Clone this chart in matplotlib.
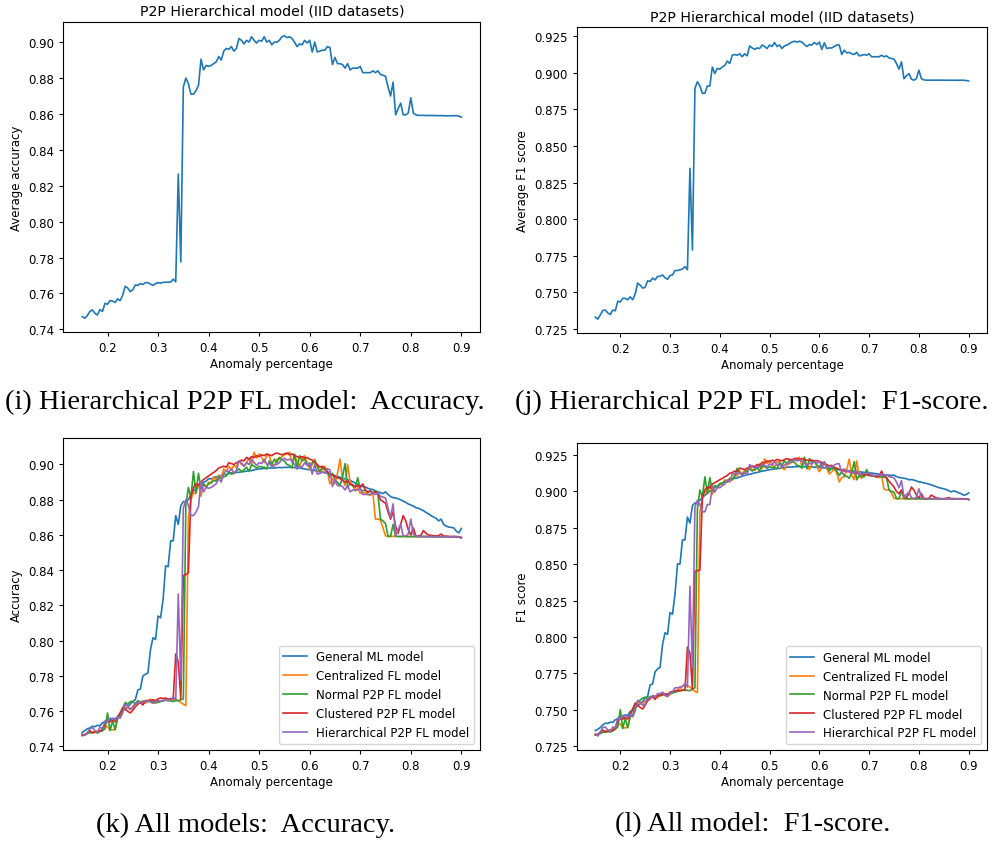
import numpy as np
import matplotlib.pyplot as plt

plt.rcParams['font.size'] = 8.5

# anomaly percentage grid (0.15 .. 0.90, step 0.005)
x = np.round(np.linspace(0.15, 0.90, 151), 3)

# ---- accuracy ----
acc_general = [
    0.7480, 0.7490, 0.7500, 0.7505, 0.7515, 0.7512, 0.7520, 0.7518, 0.7535, 0.7540,
    0.7550, 0.7548, 0.7560, 0.7555, 0.7570, 0.7585, 0.7605, 0.7612, 0.7625, 0.7640,
    0.7656, 0.7665, 0.7720, 0.7726, 0.7800, 0.7810, 0.7817, 0.7950, 0.8017, 0.8007,
    0.8140, 0.8130, 0.8235, 0.8425, 0.8420, 0.8567, 0.8567, 0.8710, 0.8660, 0.8766,
    0.8790, 0.8785, 0.8800, 0.8830, 0.8850, 0.8862, 0.8880, 0.8885, 0.8900, 0.8905,
    0.8920, 0.8918, 0.8925, 0.8930, 0.8930, 0.8938, 0.8945, 0.8942, 0.8950, 0.8952,
    0.8950, 0.8955, 0.8956, 0.8958, 0.8960, 0.8962, 0.8966, 0.8965, 0.8970, 0.8972,
    0.8975, 0.8976, 0.8978, 0.8977, 0.8980, 0.8980, 0.8980, 0.8982, 0.8983, 0.8982,
    0.8984, 0.8983, 0.8985, 0.8984, 0.8982, 0.8980, 0.8980, 0.8977, 0.8975, 0.8972,
    0.8970, 0.8968, 0.8966, 0.8962, 0.8960, 0.8957, 0.8953, 0.8950, 0.8947, 0.8942,
    0.8937, 0.8932, 0.8927, 0.8922, 0.8918, 0.8913, 0.8910, 0.8902, 0.8895, 0.8888,
    0.8880, 0.8875, 0.8872, 0.8865, 0.8860, 0.8858, 0.8850, 0.8845, 0.8840, 0.8835,
    0.8845, 0.8830, 0.8818, 0.8812, 0.8810, 0.8805, 0.8800, 0.8792, 0.8785, 0.8776,
    0.8770, 0.8764, 0.8755, 0.8752, 0.8745, 0.8738, 0.8728, 0.8720, 0.8710, 0.8702,
    0.8695, 0.8680, 0.8690, 0.8660, 0.8650, 0.8645, 0.8643, 0.8640, 0.8622, 0.8612,
    0.8637,
]
acc_central = [
    0.7462, 0.7468, 0.7475, 0.7478, 0.7480, 0.7485, 0.7478, 0.7490, 0.7488, 0.7520,
    0.7510, 0.7495, 0.7495, 0.7495, 0.7560, 0.7590, 0.7610, 0.7625, 0.7618, 0.7610,
    0.7628, 0.7640, 0.7655, 0.7650, 0.7658, 0.7645, 0.7662, 0.7668, 0.7650, 0.7645,
    0.7655, 0.7660, 0.7658, 0.7665, 0.7662, 0.7668, 0.7665, 0.7668, 0.7660, 0.7650,
    0.7640, 0.7632, 0.8700, 0.8800, 0.8840, 0.8835, 0.8890, 0.8820, 0.8890, 0.8870,
    0.8900, 0.8895, 0.8930, 0.8910, 0.8940, 0.8925, 0.8975, 0.8960, 0.8990, 0.8970,
    0.8995, 0.8985, 0.9020, 0.9000, 0.8990, 0.9010, 0.9035, 0.9000, 0.9070, 0.9035,
    0.9060, 0.9040, 0.9010, 0.9050, 0.9050, 0.9005, 0.8990, 0.9030, 0.9030, 0.9045,
    0.9055, 0.9060, 0.9070, 0.9010, 0.9050, 0.9020, 0.8990, 0.9030, 0.9050, 0.9010,
    0.8970, 0.9000, 0.9030, 0.8990, 0.8950, 0.8970, 0.8990, 0.8960, 0.8890, 0.8920,
    0.8890, 0.8950, 0.9030, 0.8920, 0.8880, 0.9000, 0.8900, 0.8880, 0.8850, 0.8870,
    0.8835, 0.8840, 0.8840, 0.8830, 0.8825, 0.8840, 0.8690, 0.8690, 0.8685, 0.8640,
    0.8595, 0.8592, 0.8592, 0.8592, 0.8593, 0.8592, 0.8592, 0.8591, 0.8591, 0.8591,
    0.8591, 0.8592, 0.8591, 0.8591, 0.8590, 0.8591, 0.8591, 0.8590, 0.8590, 0.8590,
    0.8590, 0.8590, 0.8589, 0.8590, 0.8590, 0.8589, 0.8589, 0.8590, 0.8589, 0.8588,
    0.8585,
]
acc_normal = [
    0.7468, 0.7465, 0.7472, 0.7480, 0.7478, 0.7482, 0.7476, 0.7485, 0.7490, 0.7500,
    0.7590, 0.7490, 0.7545, 0.7495, 0.7560, 0.7570, 0.7615, 0.7650, 0.7640, 0.7655,
    0.7655, 0.7640, 0.7660, 0.7650, 0.7655, 0.7660, 0.7655, 0.7660, 0.7655, 0.7650,
    0.7650, 0.7655, 0.7660, 0.7662, 0.7660, 0.7658, 0.7655, 0.7660, 0.7660, 0.7665,
    0.7670, 0.8770, 0.8870, 0.8810, 0.8960, 0.8840, 0.8950, 0.8860, 0.8890, 0.8870,
    0.8890, 0.8895, 0.8910, 0.8905, 0.8930, 0.8920, 0.8930, 0.8935, 0.8960, 0.8945,
    0.8950, 0.8965, 0.8975, 0.8960, 0.8970, 0.8985, 0.8960, 0.9000, 0.8990, 0.8980,
    0.8990, 0.8985, 0.8985, 0.8975, 0.9020, 0.9000, 0.9030, 0.9010, 0.9040, 0.9025,
    0.9020, 0.9000, 0.8995, 0.8980, 0.9060, 0.8975, 0.9050, 0.9020, 0.9030, 0.9000,
    0.8990, 0.9010, 0.9020, 0.8990, 0.8960, 0.8985, 0.8980, 0.8960, 0.8930, 0.8950,
    0.8910, 0.8900, 0.8880, 0.8930, 0.9005, 0.8870, 0.8890, 0.8880, 0.8870, 0.8925,
    0.8860, 0.8850, 0.8855, 0.8840, 0.8850, 0.8835, 0.8850, 0.8830, 0.8690, 0.8680,
    0.8665, 0.8592, 0.8592, 0.8660, 0.8592, 0.8591, 0.8591, 0.8592, 0.8591, 0.8591,
    0.8591, 0.8591, 0.8590, 0.8591, 0.8590, 0.8590, 0.8591, 0.8590, 0.8590, 0.8589,
    0.8590, 0.8589, 0.8590, 0.8590, 0.8589, 0.8589, 0.8590, 0.8589, 0.8589, 0.8588,
    0.8585,
]
acc_cluster = [
    0.7462, 0.7465, 0.7478, 0.7490, 0.7478, 0.7480, 0.7488, 0.7485, 0.7500, 0.7530,
    0.7545, 0.7540, 0.7548, 0.7540, 0.7565, 0.7590, 0.7620, 0.7610, 0.7600, 0.7590,
    0.7605, 0.7625, 0.7640, 0.7650, 0.7635, 0.7660, 0.7655, 0.7660, 0.7665, 0.7660,
    0.7670, 0.7675, 0.7672, 0.7675, 0.7668, 0.7672, 0.7670, 0.7925, 0.7880, 0.7670,
    0.8370, 0.8375, 0.8385, 0.8820, 0.8870, 0.8890, 0.8880, 0.8900, 0.8915, 0.8925,
    0.8935, 0.8945, 0.8955, 0.8965, 0.8980, 0.8985, 0.8990, 0.8985, 0.9010, 0.9005,
    0.9000, 0.9010, 0.9015, 0.9025, 0.9020, 0.9040, 0.9030, 0.9045, 0.9040, 0.9050,
    0.9045, 0.9055, 0.9050, 0.9060, 0.9055, 0.9050, 0.9060, 0.9065, 0.9060, 0.9055,
    0.9060, 0.9065, 0.9055, 0.9060, 0.9050, 0.9045, 0.9040, 0.9045, 0.9035, 0.9040,
    0.9030, 0.9025, 0.9010, 0.9000, 0.8985, 0.8990, 0.8970, 0.8960, 0.8945, 0.8940,
    0.8930, 0.8925, 0.8920, 0.8910, 0.8900, 0.8905, 0.8890, 0.8885, 0.8875, 0.8880,
    0.8870, 0.8890, 0.8855, 0.8845, 0.8850, 0.8840, 0.8845, 0.8830, 0.8800, 0.8790,
    0.8780, 0.8730, 0.8690, 0.8730, 0.8650, 0.8610, 0.8660, 0.8710, 0.8680, 0.8630,
    0.8600, 0.8640, 0.8595, 0.8595, 0.8598, 0.8625, 0.8610, 0.8600, 0.8598, 0.8596,
    0.8595, 0.8596, 0.8605, 0.8593, 0.8594, 0.8592, 0.8591, 0.8592, 0.8590, 0.8590,
    0.8585,
]
acc_hier = [
    0.7471, 0.7462, 0.7476, 0.7500, 0.7508, 0.7490, 0.7480, 0.7510, 0.7500, 0.7545,
    0.7540, 0.7560, 0.7558, 0.7550, 0.7570, 0.7560, 0.7590, 0.7640, 0.7630, 0.7610,
    0.7620, 0.7647, 0.7645, 0.7655, 0.7650, 0.7660, 0.7660, 0.7652, 0.7645, 0.7655,
    0.7660, 0.7658, 0.7662, 0.7662, 0.7663, 0.7663, 0.7680, 0.7665, 0.8265, 0.7775,
    0.8750, 0.8800, 0.8770, 0.8710, 0.8710, 0.8730, 0.8760, 0.8905, 0.8845, 0.8870,
    0.8865, 0.8870, 0.8880, 0.8890, 0.8920, 0.8900, 0.8950, 0.8965, 0.8960, 0.8975,
    0.8950, 0.8965, 0.9020, 0.9010, 0.8990, 0.9010, 0.9000, 0.9030, 0.9010, 0.8995,
    0.9010, 0.9005, 0.9030, 0.9000, 0.9010, 0.8985, 0.9000, 0.9000, 0.9010, 0.9030,
    0.9035, 0.9025, 0.9030, 0.9020, 0.9000, 0.8975, 0.8990, 0.8985, 0.9010, 0.8995,
    0.9010, 0.8945, 0.9000, 0.8945, 0.8950, 0.8955, 0.8955, 0.8975, 0.8970, 0.8875,
    0.8915, 0.8880, 0.8880, 0.8875, 0.8855, 0.8880, 0.8845, 0.8855, 0.8855, 0.8855,
    0.8865, 0.8830, 0.8830, 0.8830, 0.8830, 0.8840, 0.8830, 0.8840, 0.8820, 0.8815,
    0.8810, 0.8750, 0.8700, 0.8777, 0.8595, 0.8630, 0.8660, 0.8595, 0.8595, 0.8605,
    0.8690, 0.8605, 0.8595, 0.8592, 0.8592, 0.8592, 0.8591, 0.8592, 0.8591, 0.8591,
    0.8591, 0.8590, 0.8591, 0.8590, 0.8589, 0.8590, 0.8590, 0.8590, 0.8591, 0.8588,
    0.8582,
]

# ---- F1 score ----
f1_general = [
    0.7356, 0.7365, 0.7377, 0.7395, 0.7407, 0.7405, 0.7414, 0.7412, 0.7430, 0.7438,
    0.7450, 0.7448, 0.7464, 0.7460, 0.7487, 0.7495, 0.7515, 0.7525, 0.7545, 0.7555,
    0.7580, 0.7590, 0.7670, 0.7676, 0.7760, 0.7780, 0.7790, 0.7948, 0.8029, 0.8017,
    0.8167, 0.8156, 0.8294, 0.8501, 0.8501, 0.8667, 0.8667, 0.8824, 0.8782, 0.8904,
    0.8920, 0.8927, 0.8940, 0.8958, 0.8974, 0.8985, 0.9003, 0.9010, 0.9030, 0.9035,
    0.9054, 0.9058, 0.9065, 0.9070, 0.9080, 0.9085, 0.9090, 0.9092, 0.9100, 0.9105,
    0.9110, 0.9114, 0.9118, 0.9122, 0.9128, 0.9130, 0.9135, 0.9140, 0.9142, 0.9146,
    0.9150, 0.9152, 0.9155, 0.9158, 0.9158, 0.9162, 0.9165, 0.9166, 0.9168, 0.9168,
    0.9170, 0.9170, 0.9171, 0.9170, 0.9170, 0.9170, 0.9170, 0.9168, 0.9167, 0.9166,
    0.9165, 0.9163, 0.9162, 0.9160, 0.9158, 0.9156, 0.9154, 0.9152, 0.9150, 0.9148,
    0.9146, 0.9144, 0.9142, 0.9140, 0.9139, 0.9137, 0.9135, 0.9133, 0.9131, 0.9130,
    0.9128, 0.9126, 0.9124, 0.9122, 0.9118, 0.9116, 0.9114, 0.9113, 0.9112, 0.9110,
    0.9112, 0.9102, 0.9096, 0.9094, 0.9090, 0.9088, 0.9080, 0.9082, 0.9078, 0.9072,
    0.9066, 0.9064, 0.9058, 0.9055, 0.9050, 0.9045, 0.9038, 0.9033, 0.9026, 0.9022,
    0.9018, 0.9013, 0.9005, 0.8997, 0.9004, 0.8998, 0.8990, 0.8985, 0.8974, 0.8978,
    0.8990,
]
f1_central = [
    0.7325, 0.7330, 0.7340, 0.7345, 0.7350, 0.7360, 0.7352, 0.7365, 0.7370, 0.7410,
    0.7400, 0.7375, 0.7375, 0.7378, 0.7460, 0.7500, 0.7530, 0.7550, 0.7540, 0.7535,
    0.7560, 0.7575, 0.7590, 0.7585, 0.7595, 0.7580, 0.7605, 0.7615, 0.7595, 0.7590,
    0.7605, 0.7615, 0.7625, 0.7635, 0.7645, 0.7660, 0.7670, 0.7665, 0.7655, 0.7640,
    0.7625, 0.7618, 0.8860, 0.8950, 0.9000, 0.8990, 0.9040, 0.8980, 0.9040, 0.9020,
    0.9050, 0.9045, 0.9080, 0.9065, 0.9090, 0.9075, 0.9120, 0.9105, 0.9140, 0.9120,
    0.9145, 0.9135, 0.9170, 0.9150, 0.9145, 0.9160, 0.9190, 0.9155, 0.9225, 0.9190,
    0.9210, 0.9195, 0.9165, 0.9205, 0.9205, 0.9160, 0.9150, 0.9185, 0.9190, 0.9200,
    0.9215, 0.9220, 0.9235, 0.9170, 0.9210, 0.9180, 0.9150, 0.9190, 0.9210, 0.9170,
    0.9135, 0.9165, 0.9195, 0.9155, 0.9120, 0.9135, 0.9155, 0.9125, 0.9065, 0.9095,
    0.9100, 0.9150, 0.9222, 0.9110, 0.9080, 0.9210, 0.9105, 0.9090, 0.9120, 0.9110,
    0.9115, 0.9110, 0.9105, 0.9100, 0.9095, 0.9110, 0.9015, 0.9010, 0.9010, 0.8990,
    0.8952, 0.8950, 0.8950, 0.8950, 0.8950, 0.8950, 0.8949, 0.8950, 0.8950, 0.8949,
    0.8950, 0.8949, 0.8950, 0.8950, 0.8949, 0.8950, 0.8949, 0.8949, 0.8950, 0.8949,
    0.8949, 0.8950, 0.8949, 0.8949, 0.8949, 0.8948, 0.8949, 0.8948, 0.8948, 0.8948,
    0.8945,
]
f1_normal = [
    0.7330, 0.7328, 0.7335, 0.7345, 0.7345, 0.7350, 0.7345, 0.7355, 0.7365, 0.7380,
    0.7500, 0.7370, 0.7440, 0.7375, 0.7450, 0.7460, 0.7535, 0.7555, 0.7565, 0.7580,
    0.7585, 0.7575, 0.7590, 0.7585, 0.7590, 0.7595, 0.7598, 0.7600, 0.7605, 0.7600,
    0.7610, 0.7615, 0.7620, 0.7625, 0.7630, 0.7632, 0.7635, 0.7632, 0.7630, 0.7640,
    0.7650, 0.8880, 0.9010, 0.8960, 0.9100, 0.8990, 0.9095, 0.9000, 0.9040, 0.9030,
    0.9050, 0.9055, 0.9070, 0.9065, 0.9090, 0.9085, 0.9100, 0.9160, 0.9125, 0.9120,
    0.9130, 0.9145, 0.9155, 0.9140, 0.9150, 0.9165, 0.9140, 0.9180, 0.9170, 0.9160,
    0.9170, 0.9165, 0.9165, 0.9155, 0.9200, 0.9180, 0.9210, 0.9190, 0.9215, 0.9205,
    0.9200, 0.9180, 0.9175, 0.9160, 0.9235, 0.9155, 0.9225, 0.9200, 0.9210, 0.9180,
    0.9170, 0.9190, 0.9200, 0.9170, 0.9140, 0.9165, 0.9160, 0.9140, 0.9110, 0.9135,
    0.9110, 0.9105, 0.9090, 0.9130, 0.9205, 0.9080, 0.9110, 0.9105, 0.9100, 0.9150,
    0.9110, 0.9105, 0.9108, 0.9100, 0.9105, 0.9098, 0.9105, 0.9095, 0.9010, 0.9000,
    0.8995, 0.8950, 0.8950, 0.9005, 0.8950, 0.8950, 0.8949, 0.8950, 0.8950, 0.8949,
    0.8950, 0.8949, 0.8949, 0.8950, 0.8949, 0.8949, 0.8950, 0.8949, 0.8949, 0.8949,
    0.8948, 0.8949, 0.8949, 0.8948, 0.8949, 0.8948, 0.8948, 0.8949, 0.8948, 0.8948,
    0.8945,
]
f1_cluster = [
    0.7325, 0.7330, 0.7345, 0.7360, 0.7348, 0.7350, 0.7360, 0.7355, 0.7375, 0.7420,
    0.7440, 0.7435, 0.7445, 0.7435, 0.7470, 0.7505, 0.7545, 0.7530, 0.7515, 0.7505,
    0.7530, 0.7560, 0.7575, 0.7590, 0.7570, 0.7600, 0.7595, 0.7605, 0.7610, 0.7605,
    0.7620, 0.7625, 0.7628, 0.7632, 0.7630, 0.7635, 0.7632, 0.7930, 0.7890, 0.7640,
    0.8450, 0.8455, 0.8460, 0.8960, 0.9010, 0.9030, 0.9025, 0.9050, 0.9060, 0.9070,
    0.9080, 0.9090, 0.9100, 0.9110, 0.9125, 0.9130, 0.9140, 0.9135, 0.9160, 0.9155,
    0.9150, 0.9160, 0.9165, 0.9175, 0.9170, 0.9185, 0.9180, 0.9200, 0.9195, 0.9210,
    0.9205, 0.9215, 0.9210, 0.9220, 0.9215, 0.9210, 0.9220, 0.9225, 0.9220, 0.9218,
    0.9225, 0.9228, 0.9220, 0.9225, 0.9220, 0.9215, 0.9212, 0.9215, 0.9210, 0.9212,
    0.9205, 0.9200, 0.9190, 0.9185, 0.9175, 0.9180, 0.9165, 0.9160, 0.9150, 0.9148,
    0.9140, 0.9138, 0.9135, 0.9130, 0.9125, 0.9128, 0.9120, 0.9118, 0.9112, 0.9115,
    0.9110, 0.9115, 0.9105, 0.9100, 0.9105, 0.9140, 0.9100, 0.9095, 0.9070, 0.9050,
    0.9030, 0.9000, 0.8985, 0.9010, 0.8970, 0.8955, 0.8985, 0.9030, 0.9010, 0.8975,
    0.8955, 0.8985, 0.8950, 0.8950, 0.8952, 0.8975, 0.8965, 0.8955, 0.8952, 0.8950,
    0.8950, 0.8952, 0.8958, 0.8950, 0.8951, 0.8950, 0.8950, 0.8950, 0.8949, 0.8949,
    0.8945,
]
f1_hier = [
    0.7332, 0.7318, 0.7348, 0.7377, 0.7380, 0.7360, 0.7350, 0.7380, 0.7375, 0.7440,
    0.7435, 0.7460, 0.7460, 0.7450, 0.7470, 0.7450, 0.7490, 0.7564, 0.7550, 0.7530,
    0.7535, 0.7580, 0.7575, 0.7598, 0.7586, 0.7610, 0.7610, 0.7620, 0.7600, 0.7590,
    0.7616, 0.7620, 0.7650, 0.7650, 0.7655, 0.7660, 0.7677, 0.7655, 0.8348, 0.7790,
    0.8893, 0.8939, 0.8910, 0.8860, 0.8860, 0.8910, 0.8910, 0.9040, 0.8995, 0.9030,
    0.9025, 0.9040, 0.9050, 0.9080, 0.9064, 0.9120, 0.9125, 0.9120, 0.9130, 0.9110,
    0.9130, 0.9116, 0.9184, 0.9170, 0.9160, 0.9170, 0.9166, 0.9190, 0.9180, 0.9166,
    0.9190, 0.9180, 0.9207, 0.9180, 0.9190, 0.9166, 0.9184, 0.9190, 0.9200, 0.9210,
    0.9216, 0.9210, 0.9216, 0.9210, 0.9193, 0.9180, 0.9193, 0.9190, 0.9207, 0.9193,
    0.9210, 0.9160, 0.9205, 0.9166, 0.9170, 0.9170, 0.9180, 0.9190, 0.9190, 0.9125,
    0.9155, 0.9136, 0.9140, 0.9130, 0.9125, 0.9140, 0.9116, 0.9120, 0.9125, 0.9120,
    0.9130, 0.9110, 0.9110, 0.9110, 0.9110, 0.9120, 0.9110, 0.9116, 0.9102, 0.9098,
    0.9093, 0.9064, 0.9025, 0.9075, 0.8960, 0.8980, 0.8995, 0.8957, 0.8950, 0.8960,
    0.9018, 0.8960, 0.8952, 0.8950, 0.8950, 0.8950, 0.8950, 0.8950, 0.8950, 0.8950,
    0.8950, 0.8949, 0.8950, 0.8949, 0.8950, 0.8949, 0.8949, 0.8950, 0.8949, 0.8948,
    0.8944,
]

labels = ["General ML model", "Centralized FL model", "Normal P2P FL model",
          "Clustered P2P FL model", "Hierarchical P2P FL model"]
acc_all = [acc_general, acc_central, acc_normal, acc_cluster, acc_hier]
f1_all = [f1_general, f1_central, f1_normal, f1_cluster, f1_hier]
for s in acc_all + f1_all:
    assert len(s) == len(x)

lw = 1.2
fig = plt.figure(figsize=(9.95, 8.45), dpi=100)

ax1 = fig.add_axes([0.0636, 0.6055, 0.4191, 0.3676])
ax2 = fig.add_axes([0.5796, 0.6047, 0.4127, 0.3618])
ax3 = fig.add_axes([0.0636, 0.1116, 0.4191, 0.3689])
ax4 = fig.add_axes([0.5796, 0.1112, 0.4127, 0.3630])

ax1.plot(x, acc_hier, color='C0', lw=lw)
ax1.set_title("P2P Hierarchical model (IID datasets)", pad=5)
ax1.set_ylabel("Average accuracy")

ax2.plot(x, f1_hier, color='C0', lw=lw)
ax2.set_title("P2P Hierarchical model (IID datasets)", pad=5)
ax2.set_ylabel("Average F1 score")

for i, lab in enumerate(labels):
    ax3.plot(x, acc_all[i], color='C%d' % i, lw=lw, label=lab)
    ax4.plot(x, f1_all[i], color='C%d' % i, lw=lw, label=lab)
ax3.set_ylabel("Accuracy")
ax4.set_ylabel("F1 score")
ax3.legend(loc='lower right')
ax4.legend(loc='lower right')

for ax in (ax1, ax2, ax3, ax4):
    ax.set_xlabel("Anomaly percentage", labelpad=2)
    ax.tick_params(length=3)
ax1.set_yticks(np.arange(0.74, 0.901, 0.02))
ax3.set_yticks(np.arange(0.74, 0.901, 0.02))
ax2.set_yticks(np.arange(0.725, 0.926, 0.025))
ax4.set_yticks(np.arange(0.725, 0.926, 0.025))

cap = dict(family='Liberation Serif', fontsize=20.5, ha='center', va='center')
fig.text(245 / 995, 1 - 402 / 845, "(i) Hierarchical P2P FL model:  Accuracy.", **cap)
fig.text(752 / 995, 1 - 402 / 845, "(j) Hierarchical P2P FL model:  F1-score.", **cap)
fig.text(246 / 995, 1 - 825 / 845, "(k) All models:  Accuracy.", **cap)
fig.text(753 / 995, 1 - 825 / 845, "(l) All model:  F1-score.", **cap)

fig.savefig("out.png", dpi=100)
